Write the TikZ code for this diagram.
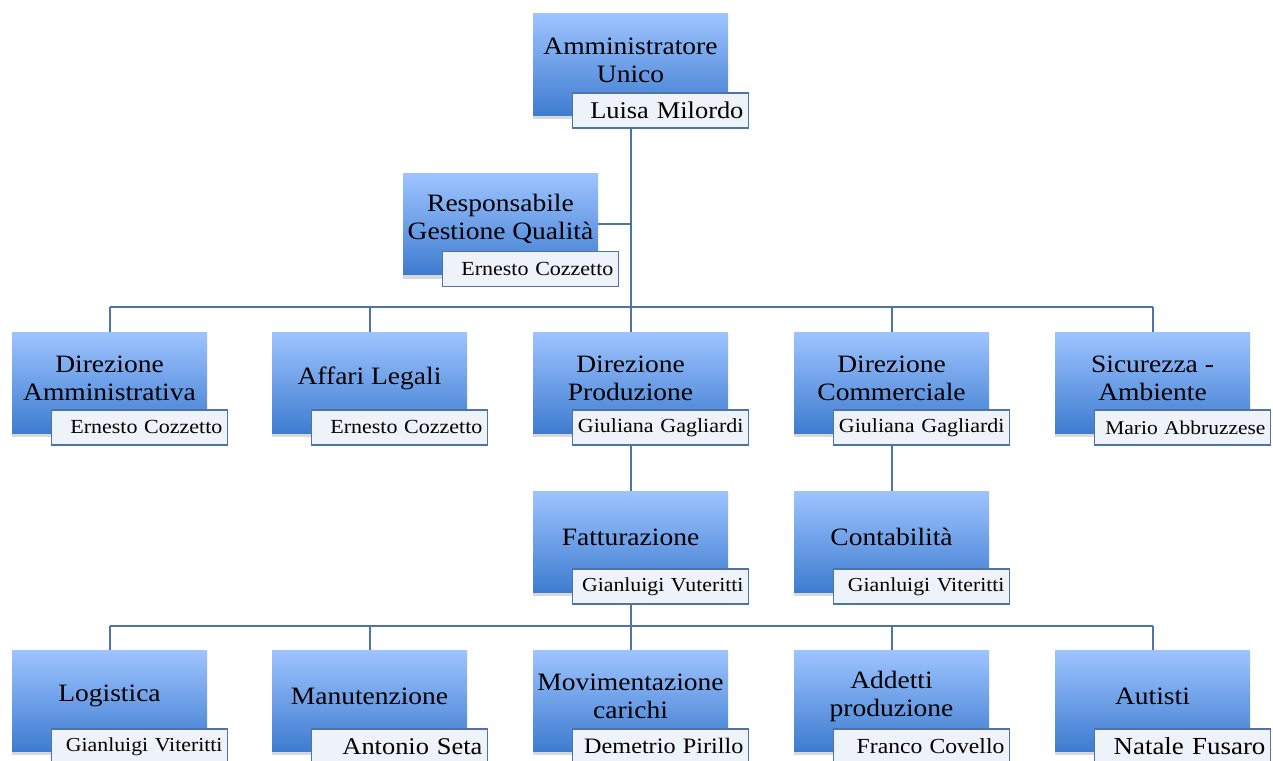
\documentclass[tikz,border=0pt]{standalone}
\usepackage{fontspec}
\setmainfont{Liberation Serif}[FakeStretch=1.1]
\usetikzlibrary{shadows}
\definecolor{boxtop}{RGB}{158,196,255}
\definecolor{boxbot}{RGB}{62,124,208}
\definecolor{linec}{RGB}{78,115,168}
\definecolor{namefill}{RGB}{238,243,250}
\newcommand{\ttlfont}{\fontsize{25}{28}\selectfont}
\newcommand{\nfs}[1]{\fontsize{#1}{#1}\selectfont}
\tikzset{
  orgbox/.style={rectangle, minimum width=195pt, minimum height=101pt, inner sep=0pt,
    top color=boxtop, bottom color=boxbot, draw=none,
    drop shadow={shadow xshift=0pt, shadow yshift=-4pt, opacity=0.3}},
  ttl/.style={align=center, font=\ttlfont, inner sep=0pt},
  nm/.style={draw=linec, line width=1.3pt, fill=namefill, anchor=north west,
    minimum height=35pt, text width=166pt, align=right, inner xsep=5pt, inner ysep=0pt},
  conn/.style={draw=linec, line width=2pt},
}
\begin{document}
\begin{tikzpicture}[x=1pt,y=-1pt]
\useasboundingbox (0,0) rectangle (1273,760);
% top
\node[orgbox] (au) at (630.5,64.5) {};
\node[ttl] (au-t) at (630.5,60) {Amministratore\\Unico};
\node[nm, font=\nfs{24}] (au-n) at ([shift={(39pt,23pt)}]au.south west) {Luisa Milordo};
% quality
\node[orgbox] (qa) at (500.5,224) {};
\node[ttl] (qa-t) at (500.5,219) {Responsabile\\Gestione Qualità};
\node[nm, font=\nfs{20}] (qa-n) at ([shift={(39pt,24pt)}]qa.south west) {Ernesto Cozzetto};
% row 2
\node[orgbox] (da) at (109.5,382.5) {};
\node[ttl] (da-t) at (109.5,378) {Direzione\\Amministrativa};
\node[nm, font=\nfs{20}] (da-n) at ([shift={(39pt,24pt)}]da.south west) {Ernesto Cozzetto};
\node[orgbox] (al) at (369.5,382.5) {};
\node[ttl] (al-t) at (369.5,378) {Affari Legali};
\node[nm, font=\nfs{20}] (al-n) at ([shift={(39pt,24pt)}]al.south west) {Ernesto Cozzetto};
\node[orgbox] (dp) at (630.5,382.5) {};
\node[ttl] (dp-t) at (630.5,378) {Direzione\\Produzione};
\node[nm, font=\nfs{20}] (dp-n) at ([shift={(39pt,24pt)}]dp.south west) {Giuliana Gagliardi};
\node[orgbox] (dc) at (891.5,382.5) {};
\node[ttl] (dc-t) at (891.5,378) {Direzione\\Commerciale};
\node[nm, font=\nfs{20}] (dc-n) at ([shift={(39pt,24pt)}]dc.south west) {Giuliana Gagliardi};
\node[orgbox] (sa) at (1152.5,382.5) {};
\node[ttl] (sa-t) at (1152.5,378) {Sicurezza -\\Ambiente};
\node[nm, font=\nfs{19.5}] (sa-n) at ([shift={(39pt,24pt)}]sa.south west) {Mario Abbruzzese};
% row 3
\node[orgbox] (fa) at (630.5,541.5) {};
\node[ttl] (fa-t) at (630.5,537) {Fatturazione};
\node[nm, font=\nfs{19.8}] (fa-n) at ([shift={(39pt,24pt)}]fa.south west) {Gianluigi Vuteritti};
\node[orgbox] (co) at (891.5,541.5) {};
\node[ttl] (co-t) at (891.5,537) {Contabilità};
\node[nm, font=\nfs{19.8}] (co-n) at ([shift={(39pt,24pt)}]co.south west) {Gianluigi Viteritti};
% row 4
\node[orgbox] (lo) at (109.5,700.5) {};
\node[ttl] (lo-t) at (109.5,696) {Logistica};
\node[nm, font=\nfs{19.8}] (lo-n) at ([shift={(39pt,23pt)}]lo.south west) {Gianluigi Viteritti};
\node[orgbox] (ma) at (369.5,700.5) {};
\node[ttl] (ma-t) at (369.5,696) {Manutenzione};
\node[nm, font=\nfs{24}] (ma-n) at ([shift={(39pt,23pt)}]ma.south west) {Antonio Seta};
\node[orgbox] (mc) at (630.5,700.5) {};
\node[ttl] (mc-t) at (630.5,696) {Movimentazione\\carichi};
\node[nm, font=\nfs{22}] (mc-n) at ([shift={(39pt,23pt)}]mc.south west) {Demetrio Pirillo};
\node[orgbox] (ap) at (891.5,700.5) {};
\node[ttl] (ap-t) at (891.5,696) {Addetti\\produzione};
\node[nm, font=\nfs{21.5}] (ap-n) at ([shift={(39pt,23pt)}]ap.south west) {Franco Covello};
\node[orgbox] (ut) at (1152.5,700.5) {};
\node[ttl] (ut-t) at (1152.5,696) {Autisti};
\node[nm, font=\nfs{24.5}] (ut-n) at ([shift={(39pt,23pt)}]ut.south west) {Natale Fusaro};
% connectors
\coordinate (b1) at (630.5,307);
\coordinate (b2) at (630.5,626);
\draw[conn] (au-n.south -| au.center) -- (b1);
\draw[conn] (qa.east) -- (qa.east -| au.center);
\draw[conn] (da.north |- b1) -- (sa.north |- b1);
\foreach \n in {da,al,dp,dc,sa} \draw[conn] (\n.north |- b1) -- (\n.north);
\draw[conn] (dp-n.south -| dp.center) -- (fa.north);
\draw[conn] (dc-n.south -| dc.center) -- (co.north);
\draw[conn] (fa-n.south -| fa.center) -- (b2);
\draw[conn] (lo.north |- b2) -- (ut.north |- b2);
\foreach \n in {lo,ma,mc,ap,ut} \draw[conn] (\n.north |- b2) -- (\n.north);
\end{tikzpicture}
\end{document}
